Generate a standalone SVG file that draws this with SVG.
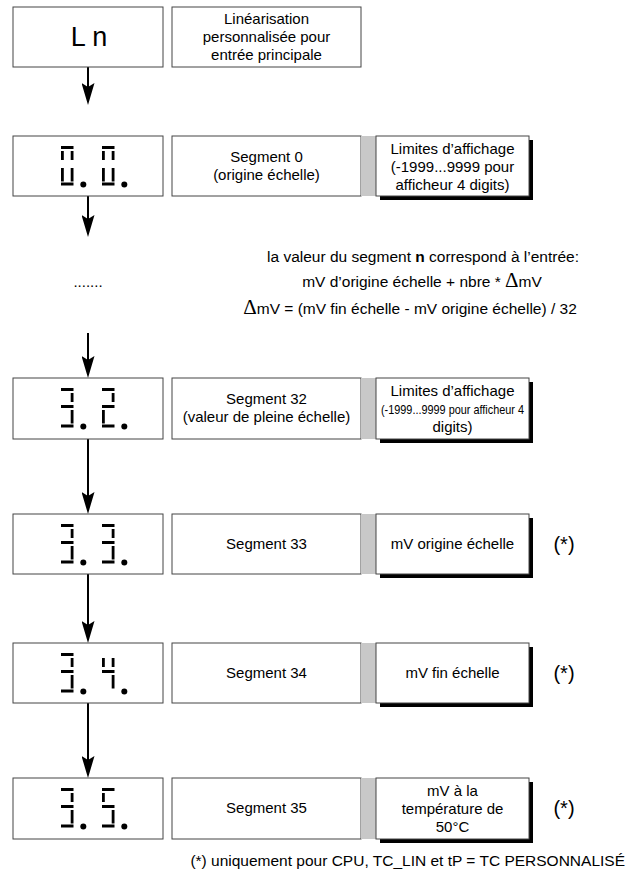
<svg xmlns="http://www.w3.org/2000/svg" width="636" height="884" viewBox="0 0 636 884">
<defs>
<style>
text{font-family:"Liberation Sans",Arial,sans-serif;font-size:15px;fill:#000;text-anchor:middle}
.note{font-size:15.5px}
.box{fill:#fff;stroke:#444;stroke-width:1}
.gray{fill:#c8c8c8}
.sh{fill:#000}
.seg{fill:#000}
.big{font-size:20px}
.delta{font-family:"Liberation Serif","Times New Roman",serif;font-size:21px}
.conn{stroke:#000;stroke-width:2;fill:none}
</style>
<marker id="ah" viewBox="0 0 22 13" refX="12" refY="6.5" markerWidth="22" markerHeight="13" markerUnits="userSpaceOnUse" orient="auto">
<path d="M0,0 L22,6.5 L0,13 L4,6.5 Z" fill="#000"/>
</marker>
<rect id="d-a" x="0" y="0" width="12.5" height="3"/>
<rect id="d-b" x="9.7" y="5" width="2.8" height="9"/>
<rect id="d-c" x="9.7" y="22" width="2.8" height="13.5"/>
<rect id="d-d" x="0" y="36.5" width="12.5" height="3"/>
<rect id="d-e" x="0" y="22" width="2.8" height="13.5"/>
<rect id="d-f" x="0" y="5" width="2.8" height="9"/>
<rect id="d-g" x="0" y="17" width="12.5" height="3"/>
<circle id="d-dp" cx="22.3" cy="38.5" r="3"/>
</defs>
<g id="connectors">
<line class="conn" x1="88" y1="67" x2="88" y2="95" marker-end="url(#ah)"/>
<line class="conn" x1="88" y1="196" x2="88" y2="227" marker-end="url(#ah)"/>
<line class="conn" x1="88" y1="333" x2="88" y2="368" marker-end="url(#ah)"/>
<line class="conn" x1="88" y1="439" x2="88" y2="504" marker-end="url(#ah)"/>
<line class="conn" x1="88" y1="574" x2="88" y2="633" marker-end="url(#ah)"/>
<line class="conn" x1="88" y1="703" x2="88" y2="768" marker-end="url(#ah)"/>
</g>
<g id="row1">
<g id="ln-box"><rect class="box" x="13" y="7" width="150" height="60"/><text x="89" y="46" style="font-size:27px">L n</text></g>
<g id="ln-desc"><rect class="box" x="172" y="7" width="189" height="60"/>
<text x="266.5" y="24">Linéarisation</text><text x="266.5" y="42">personnalisée pour</text><text x="266.5" y="60">entrée principale</text></g>
</g>
<g id="row2">
<g id="disp0"><rect class="box" x="13" y="136" width="150" height="60"/>
<g class="seg" transform="translate(61,146)"><use href="#d-a"/><use href="#d-b"/><use href="#d-c"/><use href="#d-d"/><use href="#d-e"/><use href="#d-f"/><use href="#d-dp"/></g>
<g class="seg" transform="translate(102,146)"><use href="#d-a"/><use href="#d-b"/><use href="#d-c"/><use href="#d-d"/><use href="#d-e"/><use href="#d-f"/><use href="#d-dp"/></g></g>
<g id="seg0"><rect class="box" x="172" y="136" width="189" height="60"/><text x="266.5" y="162">Segment 0</text><text x="266.5" y="180">(origine échelle)</text></g>
<rect class="gray" x="361" y="136" width="15" height="60"/>
<g id="lim0"><rect class="sh" x="380" y="140" width="153" height="60"/><rect class="box" x="376" y="136" width="153" height="60"/>
<text x="452.5" y="154">Limites d’affichage</text><text x="452.5" y="172">(-1999...9999 pour</text><text x="452.5" y="190">afficheur 4 digits)</text></g>
</g>
<g id="note">
<text x="88" y="287">.......</text>
<text class="note" x="423" y="262">la valeur du segment <tspan style="font-weight:bold">n</tspan> correspond à l’entrée:</text>
<text class="note" x="422" y="287">mV d’origine échelle + nbre * <tspan class="delta">Δ</tspan>mV</text>
<text class="note" x="410" y="314"><tspan class="delta">Δ</tspan>mV = (mV fin échelle - mV origine échelle) / 32</text>
</g>
<g id="row3">
<g id="disp32"><rect class="box" x="13" y="378" width="150" height="61"/>
<g class="seg" transform="translate(61,388)"><use href="#d-a"/><use href="#d-b"/><use href="#d-g"/><use href="#d-c"/><use href="#d-d"/><use href="#d-dp"/></g>
<g class="seg" transform="translate(102,388)"><use href="#d-a"/><use href="#d-b"/><use href="#d-g"/><use href="#d-e"/><use href="#d-d"/><use href="#d-dp"/></g></g>
<g id="seg32"><rect class="box" x="172" y="378" width="189" height="61"/><text x="266.5" y="404">Segment 32</text><text x="266.5" y="422">(valeur de pleine échelle)</text></g>
<rect class="gray" x="361" y="378" width="15" height="61"/>
<g id="lim32"><rect class="sh" x="380" y="382" width="153" height="61"/><rect class="box" x="376" y="378" width="153" height="61"/>
<text x="452.5" y="396">Limites d’affichage</text><text x="452.5" y="414" style="font-size:13.5px" textLength="143" lengthAdjust="spacingAndGlyphs">(-1999...9999 pour afficheur 4</text><text x="452.5" y="432">digits)</text></g>
</g>
<g id="row4">
<g id="disp33"><rect class="box" x="13" y="514" width="150" height="60"/>
<g class="seg" transform="translate(61,524)"><use href="#d-a"/><use href="#d-b"/><use href="#d-g"/><use href="#d-c"/><use href="#d-d"/><use href="#d-dp"/></g>
<g class="seg" transform="translate(102,524)"><use href="#d-a"/><use href="#d-b"/><use href="#d-g"/><use href="#d-c"/><use href="#d-d"/><use href="#d-dp"/></g></g>
<g id="seg33"><rect class="box" x="172" y="514" width="189" height="60"/><text x="266.5" y="549">Segment 33</text></g>
<rect class="gray" x="361" y="514" width="15" height="60"/>
<g id="orig33"><rect class="sh" x="380" y="518" width="153" height="60"/><rect class="box" x="376" y="514" width="153" height="60"/>
<text x="452.5" y="549">mV origine échelle</text></g>
<text class="big" x="564" y="551">(*)</text>
</g>
<g id="row5">
<g id="disp34"><rect class="box" x="13" y="643" width="150" height="60"/>
<g class="seg" transform="translate(61,653)"><use href="#d-a"/><use href="#d-b"/><use href="#d-g"/><use href="#d-c"/><use href="#d-d"/><use href="#d-dp"/></g>
<g class="seg" transform="translate(102,653)"><use href="#d-f"/><use href="#d-b"/><use href="#d-g"/><use href="#d-c"/><use href="#d-dp"/></g></g>
<g id="seg34"><rect class="box" x="172" y="643" width="189" height="60"/><text x="266.5" y="678">Segment 34</text></g>
<rect class="gray" x="361" y="643" width="15" height="60"/>
<g id="fin34"><rect class="sh" x="380" y="647" width="153" height="60"/><rect class="box" x="376" y="643" width="153" height="60"/>
<text x="452.5" y="678">mV fin échelle</text></g>
<text class="big" x="564" y="680">(*)</text>
</g>
<g id="row6">
<g id="disp35"><rect class="box" x="13" y="778" width="150" height="61"/>
<g class="seg" transform="translate(61,788)"><use href="#d-a"/><use href="#d-b"/><use href="#d-g"/><use href="#d-c"/><use href="#d-d"/><use href="#d-dp"/></g>
<g class="seg" transform="translate(102,788)"><use href="#d-a"/><use href="#d-f"/><use href="#d-g"/><use href="#d-c"/><use href="#d-d"/><use href="#d-dp"/></g></g>
<g id="seg35"><rect class="box" x="172" y="778" width="189" height="61"/><text x="266.5" y="813">Segment 35</text></g>
<rect class="gray" x="361" y="778" width="15" height="61"/>
<g id="temp35"><rect class="sh" x="380" y="782" width="153" height="61"/><rect class="box" x="376" y="778" width="153" height="61"/>
<text x="452.5" y="796">mV à la</text><text x="452.5" y="814">température de</text><text x="452.5" y="832">50°C</text></g>
<text class="big" x="564" y="815">(*)</text>
</g>
<text class="note" x="625" y="866" style="text-anchor:end">(*) uniquement pour CPU, TC_LIN et tP = TC PERSONNALISÉ</text>
</svg>
